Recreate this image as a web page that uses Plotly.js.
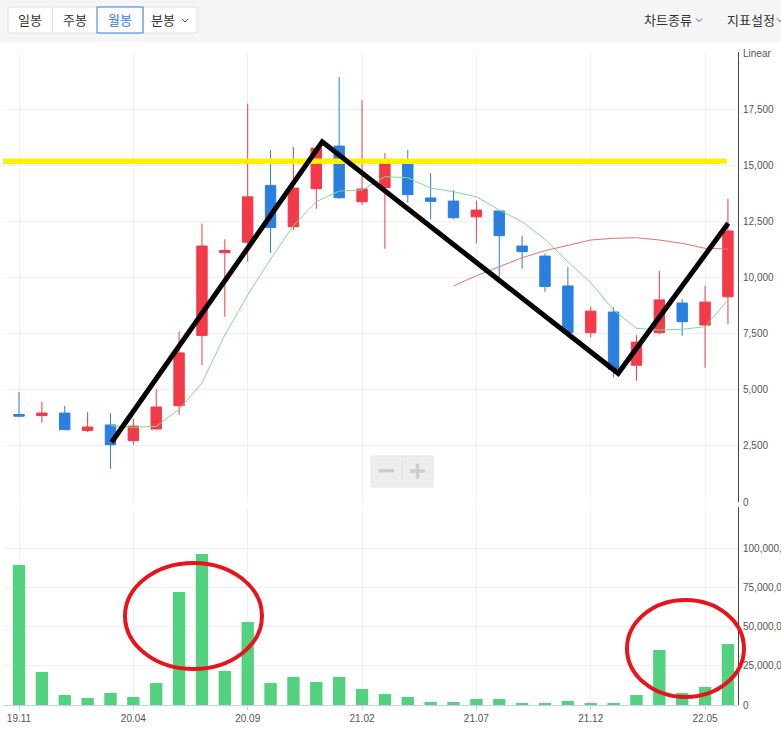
<!DOCTYPE html>
<html><head><meta charset="utf-8">
<script src="https://cdn.plot.ly/plotly-3.0.1.min.js"></script>
<style>html,body{margin:0;padding:0;background:#fff;overflow:hidden}#chart{width:781px;height:729px}</style>
</head><body><div id="chart"></div>
<script>
// ---- data (monthly candles) ----
const months = ['19.11','19.12','20.01','20.02','20.03','20.04','20.05','20.06','20.07','20.08','20.09','20.10','20.11','20.12',
  '21.01','21.02','21.03','21.04','21.05','21.06','21.07','21.08','21.09','21.10','21.11','21.12',
  '22.01','22.02','22.03','22.04','22.05','22.06'];
const openP  = [3900,3850,3960,3180,3430,2730,3250,4290,7420,11100,11570,14100,12260,13950,15850,13370,14000,15050,13540,13400,12700,12960,11400,10950,9620,7540,8460,6090,7540,8860,7880,9140];
const highP  = [4900,4450,4280,4000,3960,3710,5030,7600,12400,11700,17740,15680,15800,15770,18930,17900,15540,15680,14650,13880,13420,12960,11850,11070,10460,8700,8670,7440,10290,9040,9630,13490];
const lowP   = [3800,3530,3200,3120,1480,2550,3230,3890,6100,8250,10700,11090,12100,13060,13500,13230,11280,13330,12590,12590,11520,10030,10390,9360,7520,7330,5550,5400,7470,7400,5980,7910];
const closeP = [3820,3960,3220,3340,2550,3380,4230,6640,11400,11200,13590,12220,13980,15760,13550,13940,15050,13690,13390,12660,13000,11860,11150,9600,7540,8500,5910,7120,9000,8030,8900,12070];
const volume = [89.4,21.1,6.4,4.5,7.7,5.1,14.0,72.1,96.4,21.7,53.0,14.0,17.9,14.7,17.9,10.2,7.0,5.1,1.9,1.9,3.8,3.8,1.3,1.3,2.6,1.3,1.3,6.4,35.1,7.7,11.5,38.9].map(v=>v*1e6);
const ma5  = [null,null,null,null,3398,3325,3370,4127,5299,7437,9218,10820,12305,13372,13849,13893,14486,14441,13980,13818,13595,13003,12482,11698,10701,9766,8550,7735,7659,7690,7806,8995];
const ma20 = [null,null,null,null,null,null,null,null,null,null,null,null,null,null,null,null,null,null,null,9618,10077,10478,10879,11191,11444,11667,11743,11770,11667,11520,11297,11267];
// user drawings
const trendX = [4.05, 13.26, 26.20, 31.01];
const trendY = [2660, 16040, 5730, 12410];
const levelPrice = 15180;
const priceTicks = [0,2500,5000,7500,10000,12500,15000,17500];
const volTicks = [0,25e6,50e6,75e6,100e6];
const xTickIdx = [0,5,10,15,20,25,30];

// ---- geometry helpers ----
const W=781,H=729,L=3,R=43,T=52,B=24;
const pw=W-L-R, ph=H-T-B;
const px=X=>(X-L)/pw, py=Y=>(H-B-Y)/ph;
const idx = months.map((_,i)=>i);
const fmt = v=>v.toLocaleString('en-US');

const RED='#f23a48', BLUE='#2b7fe0';
const tickFont={family:'Liberation Sans, Arial, sans-serif',size:10,color:'#555'};
const krFont=(c,s)=>({family:'Noto Sans CJK KR, sans-serif',size:s||13,color:c||'#333'});

const traces = [
  {type:'candlestick', x:idx, open:openP, high:highP, low:lowP, close:closeP, xaxis:'x', yaxis:'y',
   increasing:{line:{color:RED,width:1},fillcolor:RED}, decreasing:{line:{color:BLUE,width:1},fillcolor:BLUE},
   whiskerwidth:0, hoverinfo:'none', showlegend:false},
  {type:'scatter', mode:'lines', x:idx, y:ma5, xaxis:'x', yaxis:'y', line:{color:'#7ddc8c',width:1}, hoverinfo:'none', showlegend:false},
  {type:'scatter', mode:'lines', x:idx, y:ma20, xaxis:'x', yaxis:'y', line:{color:'#ee6f6f',width:1}, hoverinfo:'none', showlegend:false},
  {type:'bar', x:idx, y:volume, xaxis:'x', yaxis:'y2', marker:{color:'#52d17e'}, width:0.54, hoverinfo:'none', showlegend:false}
];

function pathPx(pts){ return pts.map((p,i)=>(i?'L':'M')+px(p[0])+','+py(p[1])).join(' '); }
const trendPath = trendX.map((x,i)=>(i?'L':'M')+x+','+trendY[i]).join(' ');

const shapes = [
  // toolbar
  {type:'rect',xref:'paper',yref:'paper',x0:px(0),x1:px(W),y0:py(42),y1:py(0),fillcolor:'#f5f5f5',line:{width:0},layer:'below'},
  {type:'rect',xref:'paper',yref:'paper',x0:px(8),x1:px(197),y0:py(33),y1:py(7),fillcolor:'#fff',line:{color:'#e2e2e2',width:1}},
  {type:'line',xref:'paper',yref:'paper',x0:px(52.5),x1:px(52.5),y0:py(33),y1:py(7),line:{color:'#e2e2e2',width:1}},
  {type:'line',xref:'paper',yref:'paper',x0:px(143),x1:px(143),y0:py(33),y1:py(7),line:{color:'#e2e2e2',width:1}},
  {type:'rect',xref:'paper',yref:'paper',x0:px(97),x1:px(143),y0:py(33),y1:py(7),fillcolor:'#fff',line:{color:'#2b7de0',width:1}},
  {type:'path',xref:'paper',yref:'paper',path:pathPx([[182,19],[185,22],[188,19]]),line:{color:'#555',width:1}},
  {type:'path',xref:'paper',yref:'paper',path:pathPx([[696,18.5],[699,21.5],[702,18.5]]),line:{color:'#555',width:1}},
  {type:'path',xref:'paper',yref:'paper',path:pathPx([[777,18.5],[780,21.5],[783,18.5]]),line:{color:'#555',width:1}},
  // zoom control
  {type:'rect',xref:'paper',yref:'paper',x0:px(371),x1:px(433),y0:py(487),y1:py(456),fillcolor:'#ededed',line:{color:'#e6e6e6',width:1}},
  {type:'line',xref:'paper',yref:'paper',x0:px(402.3),x1:px(402.3),y0:py(480.7),y1:py(460.7),line:{color:'#dcdcdc',width:1}},
  {type:'line',xref:'paper',yref:'paper',x0:px(379),x1:px(394),y0:py(470.7),y1:py(470.7),line:{color:'#cdcdcd',width:3.5}},
  {type:'line',xref:'paper',yref:'paper',x0:px(410),x1:px(425),y0:py(471),y1:py(471),line:{color:'#cdcdcd',width:3.5}},
  {type:'line',xref:'paper',yref:'paper',x0:px(417.5),x1:px(417.5),y0:py(478.7),y1:py(463.7),line:{color:'#cdcdcd',width:3.5}},
  // yellow resistance level
  {type:'line',xref:'x',yref:'y',x0:-0.7,x1:30.95,y0:levelPrice,y1:levelPrice,line:{color:'#fff000',width:5.5},layer:'above'},
  // black zigzag
  {type:'path',xref:'x',yref:'y',path:trendPath,line:{color:'#000',width:5},layer:'above'},
  // red ellipses on volume
  {type:'circle',xref:'paper',yref:'paper',x0:px(125),x1:px(262),y0:py(669),y1:py(563),line:{color:'#e8141c',width:4}},
  {type:'circle',xref:'paper',yref:'paper',x0:px(627),x1:px(744),y0:py(697),y1:py(600),line:{color:'#e8141c',width:4}}
];

const annotations = [
  {xref:'paper',yref:'paper',x:px(30),y:py(20),text:'일봉',showarrow:false,font:krFont('#333',13),xanchor:'center',yanchor:'middle'},
  {xref:'paper',yref:'paper',x:px(75),y:py(20),text:'주봉',showarrow:false,font:krFont('#333',13),xanchor:'center',yanchor:'middle'},
  {xref:'paper',yref:'paper',x:px(120),y:py(20),text:'월봉',showarrow:false,font:krFont('#2b7de0',13),xanchor:'center',yanchor:'middle'},
  {xref:'paper',yref:'paper',x:px(163),y:py(20),text:'분봉',showarrow:false,font:krFont('#333',13),xanchor:'center',yanchor:'middle'},
  {xref:'paper',yref:'paper',x:px(668),y:py(20),text:'차트종류',showarrow:false,font:krFont('#333',13),xanchor:'center',yanchor:'middle'},
  {xref:'paper',yref:'paper',x:px(751),y:py(20),text:'지표설정',showarrow:false,font:krFont('#333',13),xanchor:'center',yanchor:'middle'},
  {xref:'paper',yref:'paper',x:px(741),y:py(53),text:'Linear',showarrow:false,font:tickFont,xanchor:'left',yanchor:'middle'}
];

const layout = {
  width:W, height:H, margin:{l:L,r:R,t:T,b:B,pad:0},
  paper_bgcolor:'#fff', plot_bgcolor:'#fff', showlegend:false, hovermode:false,
  boxgap:0.35,
  xaxis:{domain:[0,1], range:[-0.7,31.44], anchor:'y2', tickvals:xTickIdx, ticktext:xTickIdx.map(i=>months[i]),
    showgrid:true, gridcolor:'#f0f0f0', ticks:'outside', ticklen:4, tickcolor:'#c9d1e3',
    showline:true, linecolor:'#c9d1e3', tickfont:tickFont, zeroline:false, rangeslider:{visible:false}, fixedrange:true},
  yaxis:{domain:[(H-B-502)/ph,1], range:[0,20040], side:'right', anchor:'x', tickvals:priceTicks, ticktext:priceTicks.map(fmt),
    showgrid:true, gridcolor:'#f0f0f0', showline:true, linecolor:'#444', linewidth:1, ticks:'', tickfont:tickFont,
    zeroline:false, fixedrange:true, ticklabelstandoff:2},
  yaxis2:{domain:[0,(H-B-507)/ph], range:[0,126.4e6], side:'right', anchor:'x', tickvals:volTicks, ticktext:volTicks.map(fmt),
    showgrid:true, gridcolor:'#f0f0f0', showline:true, linecolor:'#444', linewidth:1, ticks:'', tickfont:tickFont,
    zeroline:false, fixedrange:true, ticklabelstandoff:2},
  shapes, annotations
};

Plotly.newPlot('chart', traces, layout, {displayModeBar:false, staticPlot:true});
</script></body></html>
